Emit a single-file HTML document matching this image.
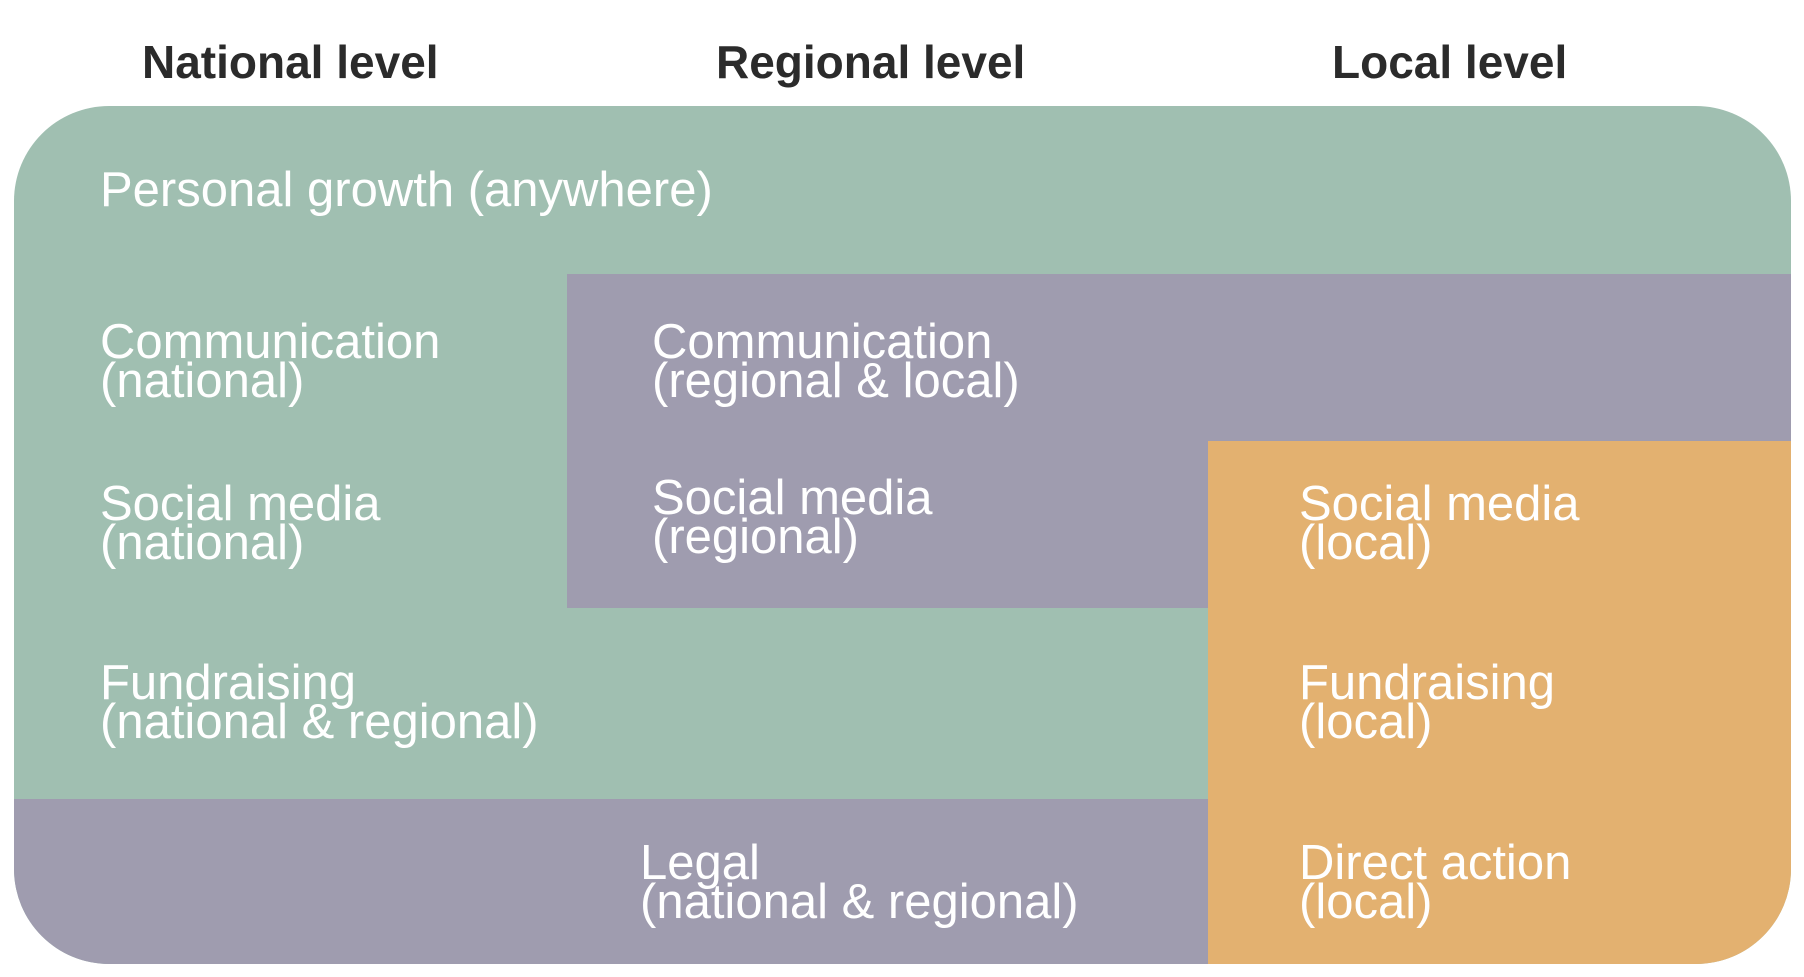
<!DOCTYPE html>
<html><head><meta charset="utf-8"><style>html,body{margin:0;padding:0;background:#fff;width:1804px;height:977px;overflow:hidden}</style></head>
<body>
<svg width="1804" height="977" viewBox="0 0 1804 977" xmlns="http://www.w3.org/2000/svg">
<defs><clipPath id="c"><rect x="14" y="106" width="1777" height="858" rx="95" ry="95"/></clipPath></defs>
<g clip-path="url(#c)">
<rect x="14" y="106" width="1785" height="862" fill="#a0bfb1"/>
<rect x="567" y="274" width="1232" height="334" fill="#9f9caf"/>
<rect x="14" y="799" width="1200" height="170" fill="#9f9caf"/>
<rect x="1208" y="441" width="591" height="527" fill="#e3b170"/>
</g>
<g font-family="Liberation Sans, sans-serif" font-size="46" font-weight="bold" fill="#2b2b2b">
<text x="142" y="78">National level</text>
<text x="716" y="78">Regional level</text>
<text x="1332" y="78">Local level</text>
</g>
<g font-family="Liberation Sans, sans-serif" font-size="49" fill="#fff">
<text x="100" y="206">Personal growth (anywhere)</text>
<text x="100" y="358">Communication</text><text x="100" y="397">(national)</text>
<text x="652" y="358">Communication</text><text x="652" y="397">(regional &amp; local)</text>
<text x="100" y="520">Social media</text><text x="100" y="559">(national)</text>
<text x="652" y="514">Social media</text><text x="652" y="553">(regional)</text>
<text x="1299" y="520">Social media</text><text x="1299" y="559">(local)</text>
<text x="100" y="699">Fundraising</text><text x="100" y="738">(national &amp; regional)</text>
<text x="1299" y="699">Fundraising</text><text x="1299" y="738">(local)</text>
<text x="640" y="879">Legal</text><text x="640" y="918">(national &amp; regional)</text>
<text x="1299" y="879">Direct action</text><text x="1299" y="918">(local)</text>
</g>
</svg>
</body></html>
